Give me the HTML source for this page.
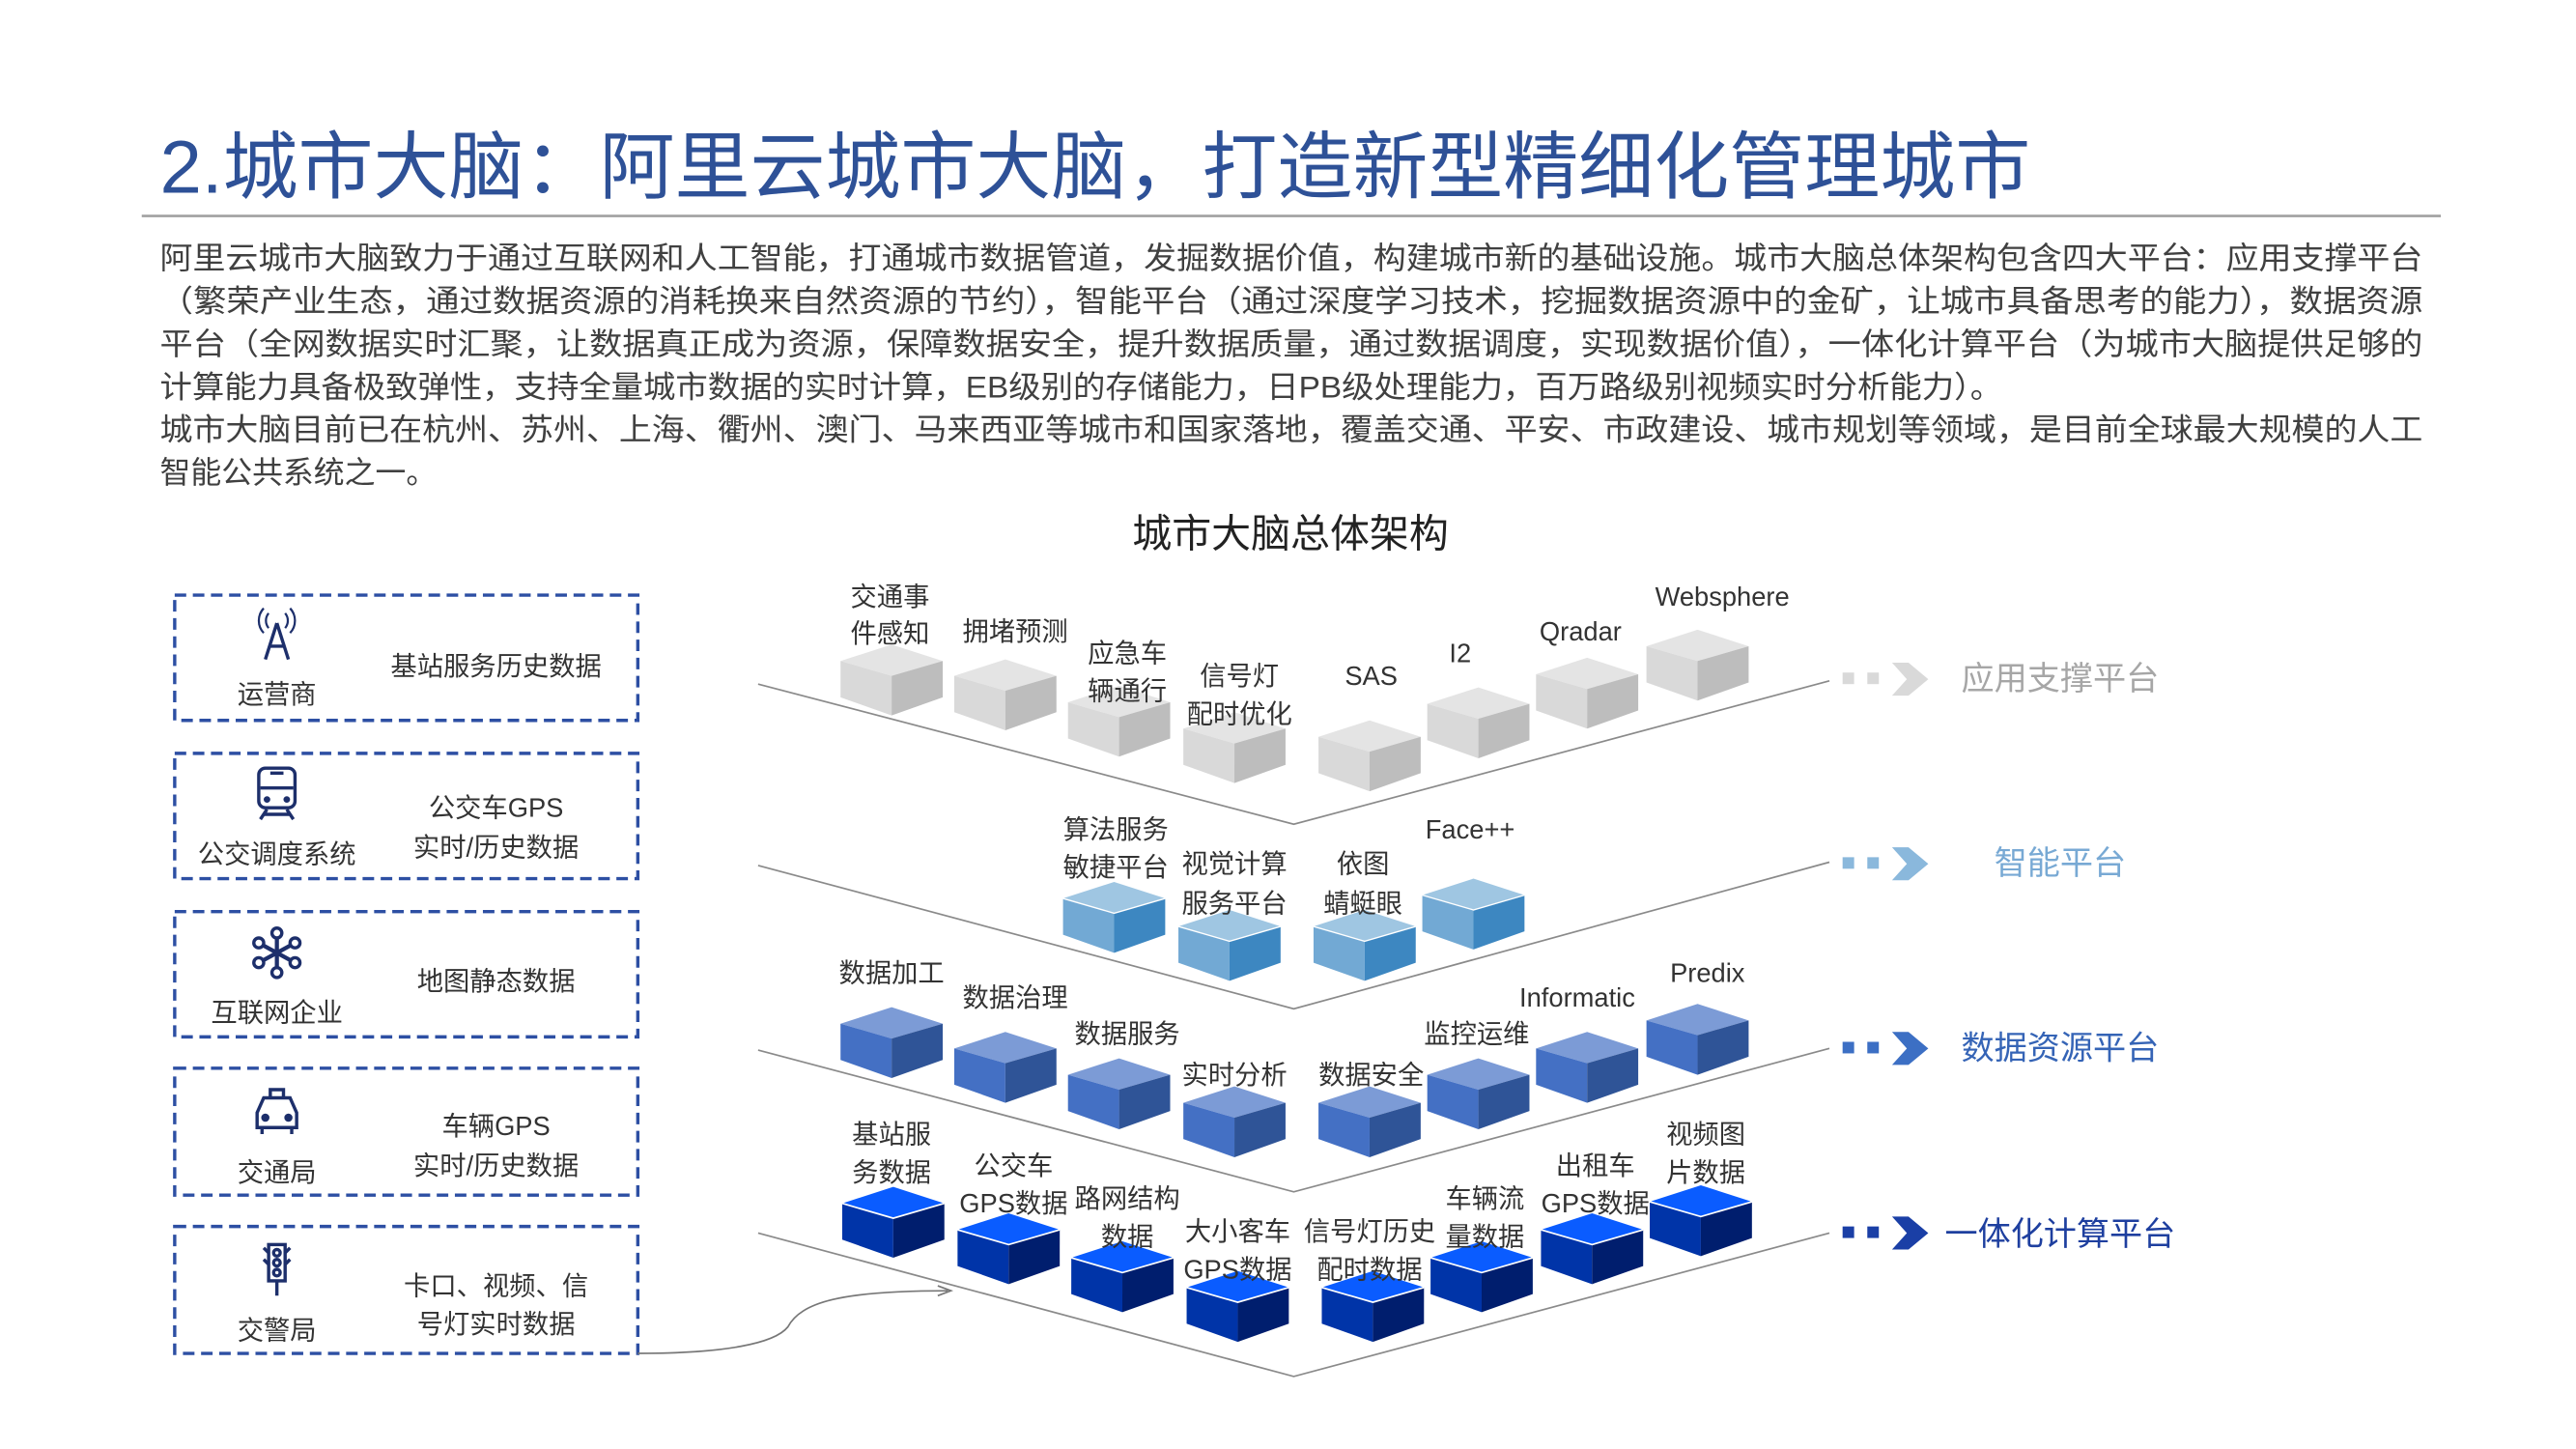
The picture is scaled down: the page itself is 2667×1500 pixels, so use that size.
<!DOCTYPE html>
<html><head><meta charset="utf-8"><style>
html,body{margin:0;padding:0;background:#fff;}
svg{display:block;}
text{font-family:"Liberation Sans","Noto Sans CJK SC",sans-serif;}
</style></head><body>
<svg width="2667" height="1500" viewBox="0 0 1563 879" preserveAspectRatio="none" xmlns="http://www.w3.org/2000/svg">
<defs>
<g id="cg"><polygon points="-31,10 0,0 31,10 0,19" fill="#e4e4e4"/><polygon points="-31,10 0,19 0,43 -31,32" fill="#d9d9d9"/><polygon points="0,19 31,10 31,32 0,43" fill="#bdbdbd"/></g>
<g id="cl"><polygon points="-31,10 0,0 31,10 0,19" fill="#9fc6e2"/><polygon points="-31,10 0,19 0,43 -31,32" fill="#72a9d4"/><polygon points="0,19 31,10 31,32 0,43" fill="#3d87c1"/><polyline points="-31,10 0,19 31,10" fill="none" stroke="#fff" stroke-width="0.8"/></g>
<g id="cm"><polygon points="-31,10 0,0 31,10 0,19" fill="#7c9bd6"/><polygon points="-31,10 0,19 0,43 -31,32" fill="#4470c4"/><polygon points="0,19 31,10 31,32 0,43" fill="#2f5497"/></g>
<g id="cd"><polygon points="-31,10 0,0 31,10 0,19" fill="#0a5cff"/><polygon points="-31,10 0,19 0,43 -31,32" fill="#0034a8"/><polygon points="0,19 31,10 31,32 0,43" fill="#001e6e"/><polyline points="-31,10 0,19 31,10" fill="none" stroke="#fff" stroke-width="1"/></g>
</defs>

<text x="97" y="117" font-size="45" fill="#2e5197" textLength="1135" lengthAdjust="spacingAndGlyphs">2.城市大脑：阿里云城市大脑，打造新型精细化管理城市</text>
<line x1="86" y1="131" x2="1481" y2="131" stroke="#a0a0a0" stroke-width="1.5"/>

<g font-size="18.5" fill="#404040">
<text x="97" y="163" textLength="1373" lengthAdjust="spacingAndGlyphs">阿里云城市大脑致力于通过互联网和人工智能，打通城市数据管道，发掘数据价值，构建城市新的基础设施。城市大脑总体架构包含四大平台：应用支撑平台</text>
<text x="97" y="189" textLength="1373" lengthAdjust="spacingAndGlyphs">（繁荣产业生态，通过数据资源的消耗换来自然资源的节约），智能平台（通过深度学习技术，挖掘数据资源中的金矿，让城市具备思考的能力），数据资源</text>
<text x="97" y="215" textLength="1373" lengthAdjust="spacingAndGlyphs">平台（全网数据实时汇聚，让数据真正成为资源，保障数据安全，提升数据质量，通过数据调度，实现数据价值），一体化计算平台（为城市大脑提供足够的</text>
<text x="97" y="241" textLength="1118" lengthAdjust="spacingAndGlyphs">计算能力具备极致弹性，支持全量城市数据的实时计算，EB级别的存储能力，日PB级处理能力，百万路级别视频实时分析能力）。</text>
<text x="97" y="267" textLength="1373" lengthAdjust="spacingAndGlyphs">城市大脑目前已在杭州、苏州、上海、衢州、澳门、马来西亚等城市和国家落地，覆盖交通、平安、市政建设、城市规划等领域，是目前全球最大规模的人工</text>
<text x="97" y="293" textLength="168" lengthAdjust="spacingAndGlyphs">智能公共系统之一。</text>
</g>
<text x="783" y="332" font-size="24" fill="#222" text-anchor="middle">城市大脑总体架构</text>

<g fill="none" stroke="#2d4fa3" stroke-width="2" stroke-dasharray="7,4">
<rect x="106" y="361" width="281" height="76"/>
<rect x="106" y="457" width="281" height="76"/>
<rect x="106" y="553" width="281" height="76"/>
<rect x="106" y="648" width="281" height="77"/>
<rect x="106" y="744" width="281" height="77"/>
</g>
<g font-size="16" fill="#333" text-anchor="middle" dominant-baseline="central">
<text x="168" y="421">运营商</text><text x="301" y="404">基站服务历史数据</text>
<text x="168" y="518">公交调度系统</text><text x="301" y="490">公交车GPS</text><text x="301" y="514">实时/历史数据</text>
<text x="168" y="614">互联网企业</text><text x="301" y="595">地图静态数据</text>
<text x="168" y="711">交通局</text><text x="301" y="683">车辆GPS</text><text x="301" y="707">实时/历史数据</text>
<text x="168" y="807">交警局</text><text x="301" y="780">卡口、视频、信</text><text x="301" y="803">号灯实时数据</text>
</g>
<g stroke="#1d2f6b" fill="none" stroke-width="2">
<path d="M168,378 L161,400 M168,378 L175,400 M163,392 L173,392"/>
<path d="M163,372 a7,7 0 0 0 0,9 M173,372 a7,7 0 0 1 0,9 M160,369 a11,11 0 0 0 0,15 M176,369 a11,11 0 0 1 0,15" stroke-width="1.3"/>
<rect x="157" y="466" width="22" height="24" rx="4"/><line x1="158" y1="478" x2="178" y2="478"/><path d="M158,497 l4,-6 M178,497 l-4,-6 M160,494 h16"/>
<g fill="#1d2f6b" stroke="none"><circle cx="162" cy="485" r="2"/><circle cx="174" cy="485" r="2"/><rect x="164" y="468" width="8" height="2"/></g>
<g stroke-width="2.5"><path d="M168,566 v24 M157,572 l22,12 M157,584 l22,-12"/></g>
<g fill="#fff"><circle cx="168" cy="566" r="3"/><circle cx="168" cy="590" r="3"/><circle cx="157" cy="572" r="3"/><circle cx="179" cy="572" r="3"/><circle cx="157" cy="584" r="3"/><circle cx="179" cy="584" r="3"/></g>
<path d="M156,684 v-9 l4,-9 h16 l4,9 v9 z M164,666 v-5 h8 v5"/><path d="M159,684 v4 M177,684 v4"/><circle cx="161" cy="678" r="1.5" fill="#1d2f6b"/><circle cx="175" cy="678" r="1.5" fill="#1d2f6b"/>
<rect x="163" y="755" width="10" height="22"/><circle cx="168" cy="760" r="2"/><circle cx="168" cy="766" r="2"/><circle cx="168" cy="772" r="2"/><path d="M168,777 v9 M160,757 l3,3 M176,757 l-3,3 M160,764 l3,3 M176,764 l-3,3"/>
</g>
<path d="M387,821 C440,821 470,815 478,805 C486,790 510,783 575,783" fill="none" stroke="#777" stroke-width="1"/>
<path d="M569,780 L577,783 L569,786" fill="none" stroke="#777" stroke-width="1"/>

<g fill="none" stroke="#8a8a8a" stroke-width="1">
<polyline points="460,415 785,500 1110,413"/>
<polyline points="460,525 785,612 1110,523"/>
<polyline points="460,637 785,723 1110,636"/>
<polyline points="460,748 785,835 1110,748"/>
</g>

<use href="#cg" x="541" y="391"/><use href="#cg" x="610" y="400"/><use href="#cg" x="679" y="416"/><use href="#cg" x="749" y="432"/><use href="#cg" x="831" y="437"/><use href="#cg" x="897" y="417"/><use href="#cg" x="963" y="399"/><use href="#cg" x="1030" y="382"/>
<use href="#cl" x="676" y="535"/><use href="#cl" x="746" y="552"/><use href="#cl" x="828" y="552"/><use href="#cl" x="894" y="533"/>
<use href="#cm" x="541" y="611"/><use href="#cm" x="610" y="626"/><use href="#cm" x="679" y="642"/><use href="#cm" x="749" y="659"/><use href="#cm" x="831" y="659"/><use href="#cm" x="897" y="642"/><use href="#cm" x="963" y="626"/><use href="#cm" x="1030" y="609"/>
<use href="#cd" x="542" y="720"/><use href="#cd" x="612" y="736"/><use href="#cd" x="681" y="753"/><use href="#cd" x="751" y="771"/><use href="#cd" x="833" y="771"/><use href="#cd" x="899" y="753"/><use href="#cd" x="966" y="736"/><use href="#cd" x="1032" y="719"/>

<g font-size="16" fill="#333" text-anchor="middle" dominant-baseline="central">
<text x="540" y="362">交通事</text><text x="540" y="384">件感知</text><text x="616" y="383">拥堵预测</text>
<text x="684" y="396">应急车</text><text x="684" y="419">辆通行</text><text x="752" y="410">信号灯</text><text x="752" y="433">配时优化</text>
<text x="832" y="410">SAS</text><text x="886" y="396">I2</text><text x="959" y="383">Qradar</text><text x="1045" y="362">Websphere</text>
<text x="677" y="503">算法服务</text><text x="677" y="526">敏捷平台</text><text x="749" y="524">视觉计算</text><text x="749" y="548">服务平台</text>
<text x="827" y="524">依图</text><text x="827" y="548">蜻蜓眼</text><text x="892" y="503">Face++</text>
<text x="541" y="590">数据加工</text><text x="616" y="605">数据治理</text><text x="684" y="627">数据服务</text><text x="749" y="652">实时分析</text>
<text x="832" y="652">数据安全</text><text x="896" y="627">监控运维</text><text x="957" y="605">Informatic</text><text x="1036" y="590">Predix</text>
<text x="541" y="688">基站服</text><text x="541" y="711">务数据</text><text x="615" y="707">公交车</text><text x="615" y="730">GPS数据</text>
<text x="684" y="727">路网结构</text><text x="684" y="750">数据</text><text x="751" y="747">大小客车</text><text x="751" y="770">GPS数据</text>
<text x="831" y="747">信号灯历史</text><text x="831" y="770">配时数据</text><text x="901" y="727">车辆流</text><text x="901" y="750">量数据</text>
<text x="968" y="707">出租车</text><text x="968" y="730">GPS数据</text><text x="1035" y="688">视频图</text><text x="1035" y="711">片数据</text>
</g>

<g>
<g fill="#d9d9d9"><rect x="1118" y="408" width="7" height="7"/><rect x="1133" y="408" width="7" height="7"/><polygon points="1148,402 1158,402 1170,412 1158,422 1148,422 1157,412"/></g>
<g fill="#8ab8dc"><rect x="1118" y="520" width="7" height="7"/><rect x="1133" y="520" width="7" height="7"/><polygon points="1148,514 1158,514 1170,524 1158,534 1148,534 1157,524"/></g>
<g fill="#3c6fc4"><rect x="1118" y="632" width="7" height="7"/><rect x="1133" y="632" width="7" height="7"/><polygon points="1148,626 1158,626 1170,636 1158,646 1148,646 1157,636"/></g>
<g fill="#1a3fa6"><rect x="1118" y="744" width="7" height="7"/><rect x="1133" y="744" width="7" height="7"/><polygon points="1148,738 1158,738 1170,748 1158,758 1148,758 1157,748"/></g>
</g>
<g font-size="20" dominant-baseline="central">
<text x="1190" y="412" fill="#a6a6a6">应用支撑平台</text>
<text x="1210" y="524" fill="#78a9d4">智能平台</text>
<text x="1190" y="636" fill="#3564b6">数据资源平台</text>
<text x="1180" y="749" fill="#1e3f9f">一体化计算平台</text>
</g>
</svg>
</body></html>
